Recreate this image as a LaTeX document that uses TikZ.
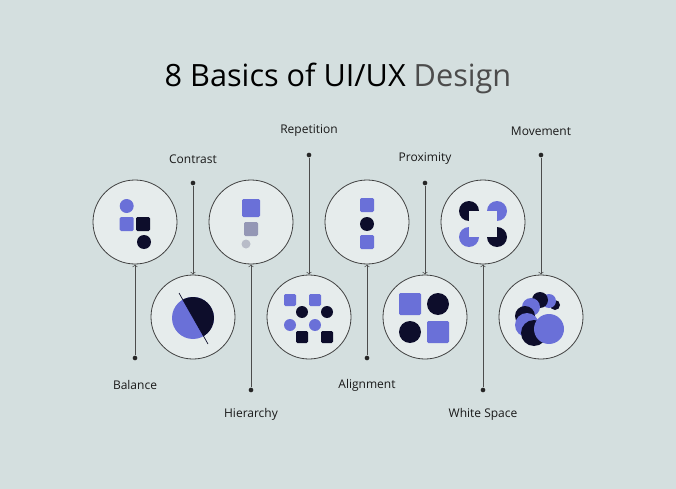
\documentclass[tikz,border=0pt]{standalone}
\usepackage{fontspec}
\setmainfont{Open Sans}
\begin{document}
\begin{tikzpicture}[x=0.75pt,y=-0.75pt,
  bub/.style={circle,draw=black!75,line width=0.6pt,fill=cin,minimum size=84*0.75pt,inner sep=0},
  lab/.style={font=\fontsize{9}{11}\selectfont,text=black!90},
  con/.style={draw=black!70,line width=0.5pt},
  dotc/.style={circle,fill=black!85,inner sep=0,minimum size=3.5pt}]
\definecolor{bg}{HTML}{D4DFDF}\definecolor{cin}{HTML}{E6ECEC}
\definecolor{bl}{HTML}{6A70D8}\definecolor{dk}{HTML}{0D0D2B}
\definecolor{gr}{HTML}{9497B5}\definecolor{lg}{HTML}{B8BCC8}
\fill[bg] (0,0) rectangle (676,489);
\useasboundingbox (0,0) rectangle (676,489);
\node[font=\fontsize{23}{27}\selectfont] (title) at (338,78) {8 Basics of UI/UX \textcolor{black!70}{Design}};
% bubbles
\node[bub] (b1) at (135,222) {}; \node[bub] (b3) at (251,222) {};
\node[bub] (b5) at (367,222) {}; \node[bub] (b7) at (483,222) {};
\node[bub] (b2) at (193,317) {}; \node[bub] (b4) at (309,317) {};
\node[bub] (b6) at (425,317) {}; \node[bub] (b8) at (541,317) {};
% connectors
\foreach \n/\x/\y/\ly/\t in {b1/135/358/385/Balance,b3/251/390/414/Hierarchy,b5/367/358/385/Alignment,b7/483/390/414/White Space}{
  \node[dotc] (d\n) at (\x,\y) {};
  \node[lab] (l\n) at (\x,\ly) {\t};
  \draw[con,-to] (d\n) -- (\n.south);}
\foreach \n/\x/\y/\ly/\t in {b2/193/183/159/Contrast,b4/309/155/131/Repetition,b6/425/183/159/Proximity,b8/541/155/131/Movement}{
  \node[dotc] (d\n) at (\x,\y) {};
  \node[lab] (l\n) at (\x,\ly) {\t};
  \draw[con,-to] (d\n) -- (\n.north);}
% Balance
\fill[bl] (126.7,206) circle (7);
\fill[bl,rounded corners=1pt] (119.7,217) rectangle +(14,14);
\fill[dk,rounded corners=1pt] (136,217) rectangle +(14,14);
\fill[dk] (144,242) circle (7);
% Contrast
\begin{scope}
\clip (193,318) circle (21);
\fill[bl] (193,318) circle (21);
\fill[dk] (179,293) -- (208,344) -- (230,344) -- (230,290) -- cycle;
\end{scope}
\draw[dk,line width=0.5pt] (179,293) -- (208,344);
% Hierarchy
\fill[bl,rounded corners=1pt] (242,199) rectangle +(18,18);
\fill[gr,rounded corners=1pt] (244,222) rectangle +(14,14);
\fill[lg] (246,244) circle (4.5);
% Repetition
\foreach \x in {0,25}{
 \fill[bl,rounded corners=1pt] (284+\x,294) rectangle +(12,12);
 \fill[dk] (302+\x,312) circle (6);
 \fill[bl] (290+\x,325) circle (6);
 \fill[dk,rounded corners=1pt] (296+\x,331) rectangle +(12,12);}
% Alignment
\fill[bl,rounded corners=1pt] (360,198) rectangle +(14,14);
\fill[dk] (367,224) circle (7);
\fill[bl,rounded corners=1pt] (360,235) rectangle +(14,14);
% Proximity
\fill[bl,rounded corners=1pt] (399,293) rectangle +(22,22);
\fill[dk] (438,304) circle (11);
\fill[dk] (410,332) circle (11);
\fill[bl,rounded corners=1pt] (427,321) rectangle +(22,22);
% White space
\fill[dk] (469,211) circle (10); \fill[bl] (497,211) circle (10);
\fill[bl] (469,237) circle (10); \fill[dk] (497,237) circle (10);
\fill[cin] (469,211) rectangle (497,237);
% Movement
\fill[dk] (555,305) circle (5);
\fill[bl] (549,301) circle (7);
\fill[dk] (540,300) circle (8);
\fill[bl] (531,307) circle (9);
\fill[dk] (525,316) circle (10);
\fill[bl] (527,325) circle (12);
\fill[dk] (534,333) circle (13);
\fill[bl] (549,329) circle (15);
\end{tikzpicture}
\end{document}
